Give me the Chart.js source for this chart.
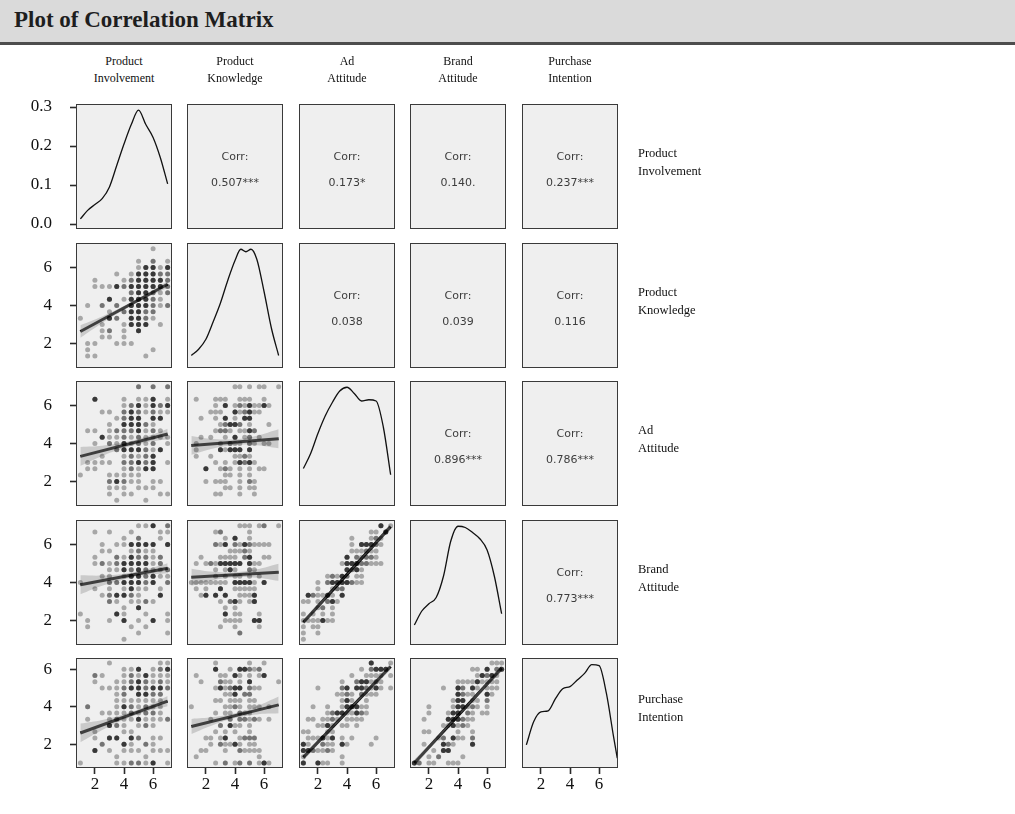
<!DOCTYPE html>
<html>
<head>
<meta charset="utf-8">
<script src="https://cdn.jsdelivr.net/npm/chart.js@4.4.1/dist/chart.umd.min.js"></script>
<style>
  body { margin: 0; background: #fff; width: 1015px; height: 814px; position: relative; overflow: hidden; }
  #header { position: absolute; left: 0; top: 0; width: 1015px; height: 42px; background: #dadada;
            border-bottom: 3px solid #4d4d4d; }
  #header span { position: absolute; left: 14px; top: 7px; font: bold 23px "Liberation Serif", serif; color: #1e1e1e; }
  .lab { position: absolute; font: 12px/17px "Liberation Serif", serif; color: #111; }
  .col { text-align: center; width: 120px; }
  .row { line-height: 18px; font-size: 12.5px; }
  .cell { position: absolute; }
</style>
</head>
<body>
<div id="header"><span>Plot of Correlation Matrix</span></div>
<script>
// variable names (strip labels)
const varNames = [
    ['Product', 'Involvement'],
    ['Product', 'Knowledge'],
    ['Ad', 'Attitude'],
    ['Brand', 'Attitude'],
    ['Purchase', 'Intention']
];

// correlation text, upper triangle, row by row
const corrValues = ['0.507***', '0.173*', '0.140.', '0.237***', '0.038', '0.039', '0.116', '0.896***', '0.786***', '0.773***'];

// response levels of each scale
const halves = [1, 1.5, 2, 2.5, 3, 3.5, 4, 4.5, 5, 5.5, 6, 6.5, 7];
const thirds = [1, 1.333, 1.667, 2, 2.333, 2.667, 3, 3.333, 3.667, 4, 4.333, 4.667, 5, 5.333, 5.667, 6, 6.333, 6.667, 7];
const intentLevels = [1, 1.333, 1.667, 2, 2.333, 2.667, 3, 3.333, 3.667, 4, 4.333, 4.667, 5, 5.333, 5.667, 6, 6.333];
const varLevels = [halves, thirds, thirds, thirds, intentLevels];

const axisTicks = [2, 4, 6];
const densityTicks = [0, 0.1, 0.2, 0.3];

// scatter grids: one string per y level (top = highest),
// one char per x level; '.' none, 1 light, 2 medium, 3 dark (overplotted)
const gridInvKnow = [
    '..........1..', '.............', '........1.2.1', '........13313', '.....1.133322',
    '..1...1233332', '..11132333332', '.......233212', '....3.133321.', '.1.2.2.333212',
    '....1.23322..', '1...32.3321..', '...1..1333.1.', '...12.1.3....', '...11.1......',
    '.11..111.....', '.1........1..', '.11......1...', '.............'
];
const gridInvAd = [
    '........2.2.2', '.............', '..3...1.113.1', '......1231323', '...11.2321211',
    '.....1233.33.', '....1.33321..', '.11.12223121.', '...3112121111', '..1.2131212.1',
    '.....2333213.', '...1..12123..', '.1111.22323.1', '.11...12133..', '1...11111....',
    '....23211.11.', '....111.111..', '....1.11...11', '.....1...1...'
];
const gridInvBrand = [
    '........113.2', '..1.1..1...11', '......1.2..1.', '...1.113333.3', '...11..1211..',
    '..1..2132212.', '..1212333312.', '....113232112', '...11.1332311', '1...2233323.2',
    '..1.1.1311.1.', '...123321..3.', '....21.1121..', '......1.3....', '1....31..1..1',
    '.1..1.3.1.3.1', '.1.....1.1...', '........1...1', '......1......'
];
const gridInvIntent = [
    '....1......11', '......113.123', '..21..1213111', '..1..11232121', '...1112332332',
    '.....12.3322.', '.....1111111.', '.2...1321211.', '...111121221.', '.1..121131112',
    '....321.121..', '..1...11.....', '..1.33.32.11.', '...2..31.21..', '..3.1.111.111',
    '.....1...1...', '1....112213.1'
];
const gridKnowAd = [
    '.........11.1.11..1', '...................', '.1...111..111..1...', '.....1.3.12131131..',
    '....111..312311....', '..1..1.3.1.33......', '......12332.1...1..', '.....1221.1132.....',
    '..1.1..1.3.12.1....', '.1....1.211.21.11..', '.1....31333.3......', '.1..1....1121......',
    '.....1.1.13231.....', '...3..121.1.1.11...', '.......11.1.1......', '...1.111..1.21.....',
    '.......11.1.11.....', '.....11...1..1.....', '...................'
];
const gridKnowBrand = [
    '..........111.12..1', '.....12.....1......', '.......1.3..1......', '.....213.21321111..',
    '........11121......', '..1...1111.23..11..', '.1.12133333.311....', '.....1.131..21.....',
    '.....1.1.11.1.1....', '11111111.33331.3...', '.1.1..3..11111.....', '..13.3.3..1113.....',
    '......1.231.13.....', '.......1.1.........', '.......3.11...1....', '.......1111..33....',
    '......1..1....1....', '..........2........', '...................'
];
const gridKnowIntent = [
    '.....1......1..1...', '.....3..1.33212....', '.1....11.31.1.13...', '..1...211.1.3.....1',
    '.....131233.211....', '.......113.22......', '.....11.111.11.....', '1......1121.111.1..',
    '.....1.11.211......', '....1...2.22121.1..', '......2.311.1......', '.....1.1.1..1......',
    '...11.13..1222.....', '....1.21131.11.....', '..11...1..21111....', '.1............1....',
    '.....1.2.12.2.131..'
];
const gridAdBrand = [
    '................3.1', '..............11.3.', '..........1...121..', '..........1.33321..',
    '..........111211...', '.........3.21221...', '........133322111..', '.........3231......',
    '.....12132.11......', '...1.23333211......', '...1..122..........', '.321131.3..........',
    '11.1.231...........', '...12.1............', '1.1.1.1............', '1111311............',
    '1.11...............', '1..1...............', '1..................'
];
const gridAdIntent = [
    '..............3...1', '............1.2333.', '..........1..1111.1', '........1..233121..',
    '...1....23.332131.1', '.......1121.2111...', '........131..1.....', '..1..1..133311.....',
    '.....123311321.....', '.11.1121.1111......', '...1131.11.1.......', '11...11............',
    '.111313.1.1....1...', '31..211.31....1....', '3321121............', '1.......1..........',
    '3..311..1..........'
];
const gridBrandIntent = [
    '................111', '............11.3.23', '.............13231.', '.........111131111.',
    '......1..32.31.111.', '.........3211..31..', '........133.11.2...', '...1....133121.1...',
    '...1...133.21.11...', '..1....333211......', '......113121.......', '..11.....1..1......',
    '.....12.311.2......', '..1...321...3......', '....1.33...........', '...1.2....1........',
    '32.11..111.........'
];

// fitted lines: y at x = 1 and x = 7; band half widths at x = 1, 2.5, 4, 5.5, 7
const bandX = [1, 2.5, 4, 5.5, 7];
const fitInvKnow = [2.63, 5.12],   bandInvKnow = [0.33, 0.17, 0.1, 0.1, 0.18];
const fitInvAd = [3.32, 4.5],      bandInvAd = [0.5, 0.27, 0.15, 0.15, 0.28];
const fitInvBrand = [3.88, 4.75],  bandInvBrand = [0.5, 0.27, 0.15, 0.14, 0.26];
const fitInvIntent = [2.6, 4.3],   bandInvIntent = [0.5, 0.27, 0.15, 0.14, 0.27];
const fitKnowAd = [3.9, 4.25],     bandKnowAd = [0.5, 0.25, 0.15, 0.25, 0.5];
const fitKnowBrand = [4.28, 4.54], bandKnowBrand = [0.45, 0.22, 0.13, 0.22, 0.45];
const fitKnowIntent = [2.95, 4.1], bandKnowIntent = [0.4, 0.21, 0.13, 0.22, 0.45];
const fitAdBrand = [1.9, 6.95],    bandAdBrand = [0.15, 0.08, 0.06, 0.08, 0.15];
const fitAdIntent = [1.3, 6.15],   bandAdIntent = [0.18, 0.1, 0.07, 0.1, 0.18];
const fitBrandIntent = [1.0, 6.06], bandBrandIntent = [0.18, 0.1, 0.07, 0.1, 0.18];

// diagonal densities (first one in density units, others relative to panel height)
const densX = [1, 1.5, 2, 2.5, 3, 3.5, 4, 4.5, 5, 5.5, 6, 6.5, 7];
const densInv = [0.013, 0.035, 0.05, 0.065, 0.095, 0.15, 0.205, 0.255, 0.292, 0.255, 0.222, 0.17, 0.103];
const densKnowX = [1, 1.5, 2, 2.5, 3, 3.5, 4, 4.4, 4.75, 5.1, 5.5, 6, 6.5, 7];
const densKnow = [0.10, 0.15, 0.23, 0.37, 0.52, 0.70, 0.86, 0.95, 0.93, 0.95, 0.87, 0.61, 0.32, 0.10];
const densAd = [0.30, 0.42, 0.58, 0.72, 0.83, 0.92, 0.95, 0.90, 0.84, 0.85, 0.84, 0.63, 0.25];
const densBrand = [0.16, 0.27, 0.33, 0.38, 0.55, 0.83, 0.95, 0.94, 0.90, 0.85, 0.76, 0.55, 0.25];
const densIntentX = [1, 1.5, 2, 2.5, 3, 3.5, 4, 4.5, 5, 5.5, 6, 6.5, 7, 7.25];
const densIntent = [0.21, 0.42, 0.51, 0.52, 0.63, 0.72, 0.74, 0.80, 0.86, 0.94, 0.93, 0.68, 0.28, 0.09];

// layout
const PANEL_X = [76, 187, 299, 410, 522];
const PANEL_Y = [104, 243, 381, 520, 658];
const PANEL_W = 96;
const PANEL_H = [125, 125, 125, 125, 110];
const AXIS_W = 60, AXIS_H = 26;
const MARGIN = 12;
const VAR_RANGE = [0.7, 7.3];
const ROW_RANGE = [[0.7, 7.3], [0.7, 7.3], [0.7, 7.3], [0.7, 7.3], [0.733, 6.6]];

const scatterPanels = {
    '1,0': [gridInvKnow, fitInvKnow, bandInvKnow],
    '2,0': [gridInvAd, fitInvAd, bandInvAd],
    '3,0': [gridInvBrand, fitInvBrand, bandInvBrand],
    '4,0': [gridInvIntent, fitInvIntent, bandInvIntent],
    '2,1': [gridKnowAd, fitKnowAd, bandKnowAd],
    '3,1': [gridKnowBrand, fitKnowBrand, bandKnowBrand],
    '4,1': [gridKnowIntent, fitKnowIntent, bandKnowIntent],
    '3,2': [gridAdBrand, fitAdBrand, bandAdBrand],
    '4,2': [gridAdIntent, fitAdIntent, bandAdIntent],
    '4,3': [gridBrandIntent, fitBrandIntent, bandBrandIntent]
};
const diagPanels = [
    [densX, densInv], [densKnowX, densKnow], [densX, densAd], [densX, densBrand], [densIntentX, densIntent]
];

const COPIES = { '1': 1, '2': 2, '3': 4 };

// panel background, border and correlation text
const panelPlugin = {
    id: 'panel',
    beforeDraw(chart) {
        const a = chart.chartArea, ctx = chart.ctx;
        ctx.save();
        ctx.fillStyle = '#efefef';
        ctx.fillRect(a.left, a.top, a.right - a.left, a.bottom - a.top);
        ctx.restore();
    },
    afterDraw(chart, args, opts) {
        const a = chart.chartArea, ctx = chart.ctx;
        ctx.save();
        ctx.strokeStyle = '#3a3a3a';
        ctx.lineWidth = 1;
        ctx.strokeRect(a.left + 0.5, a.top + 0.5, a.right - a.left - 1, a.bottom - a.top - 1);
        if (opts.corr) {
            const cx = (a.left + a.right) / 2, cy = (a.top + a.bottom) / 2;
            ctx.fillStyle = '#3d3d3d';
            ctx.font = '11px "DejaVu Sans", sans-serif';
            ctx.textAlign = 'center';
            ctx.textBaseline = 'middle';
            ctx.fillText('Corr:', cx, cy - 9);
            ctx.fillText(opts.corr, cx, cy + 17);
        }
        ctx.restore();
    }
};

function gridPoints(grid, xLevels, yLevels) {
    const pts = [];
    grid.forEach((row, r) => {
        const y = yLevels[yLevels.length - 1 - r];
        [...row].forEach((ch, c) => {
            const n = COPIES[ch] || 0;
            for (let k = 0; k < n; k++) pts.push({ x: xLevels[c], y: y });
        });
    });
    return pts;
}

function axisOpts(range, show, ticks, isY, fmt) {
    return {
        type: 'linear',
        min: range[0],
        max: range[1],
        display: show,
        position: isY ? 'left' : 'bottom',
        afterFit: s => {
            // fixed axis band, no extra room for label overflow
            if (isY) s.width = show ? AXIS_W : 0; else s.height = show ? AXIS_H : 0;
            s.paddingTop = 0; s.paddingBottom = 0; s.paddingLeft = 0; s.paddingRight = 0;
        },
        afterBuildTicks: s => { s.ticks = ticks.map(v => ({ value: v })); },
        grid: { drawOnChartArea: false, drawTicks: true, tickLength: 6, tickColor: '#2a2a2a', tickWidth: 1.6 },
        border: { display: false },
        ticks: {
            color: '#111',
            font: { family: 'Liberation Serif', size: 17 },
            padding: isY ? 18 : 0,
            maxRotation: 0,
            autoSkip: false,
            callback: fmt
        }
    };
}

function buildPanel(i, j, corr) {
    const showY = j === 0, showX = i === 4;
    const w = PANEL_W + (showY ? AXIS_W : 0) + 2 * MARGIN;
    const h = PANEL_H[i] + (showX ? AXIS_H : 0) + 2 * MARGIN;
    const cell = document.createElement('div');
    cell.className = 'cell';
    cell.style.left = (PANEL_X[j] - (showY ? AXIS_W : 0) - MARGIN) + 'px';
    cell.style.top = (PANEL_Y[i] - MARGIN) + 'px';
    cell.style.width = w + 'px';
    cell.style.height = h + 'px';
    const canvas = document.createElement('canvas');
    cell.appendChild(canvas);
    document.body.appendChild(cell);

    let datasets = [];
    let yRange = ROW_RANGE[i], yTicks = axisTicks, yFmt = v => String(v);

    if (i === j) {
        const [xs, ys] = diagPanels[i];
        datasets.push({
            type: 'line',
            data: xs.map((x, k) => ({ x: x, y: ys[k] })),
            borderColor: '#111',
            borderWidth: 1.3,
            pointRadius: 0,
            cubicInterpolationMode: 'monotone',
            fill: false
        });
        if (i === 0) {
            yRange = [-0.0128, 0.3077];
            yTicks = densityTicks;
            yFmt = v => v.toFixed(1);
        } else {
            yRange = [0, 1];
        }
    } else if (i > j) {
        const [grid, fit, band] = scatterPanels[i + ',' + j];
        const fitAt = x => fit[0] + (fit[1] - fit[0]) * (x - 1) / 6;
        datasets.push({
            type: 'scatter',
            data: gridPoints(grid, varLevels[j], varLevels[i]),
            backgroundColor: 'rgba(0,0,0,0.3)',
            borderWidth: 0,
            pointRadius: 2.5
        });
        datasets.push({
            type: 'line',
            data: bandX.map((x, k) => ({ x: x, y: fitAt(x) - band[k] })),
            borderWidth: 0,
            pointRadius: 0,
            tension: 0.4,
            fill: false
        });
        datasets.push({
            type: 'line',
            data: bandX.map((x, k) => ({ x: x, y: fitAt(x) + band[k] })),
            borderWidth: 0,
            pointRadius: 0,
            tension: 0.4,
            backgroundColor: 'rgba(150,150,150,0.42)',
            fill: '-1'
        });
        datasets.push({
            type: 'line',
            data: [{ x: 1, y: fit[0] }, { x: 7, y: fit[1] }],
            borderColor: '#000',
            borderWidth: 3,
            pointRadius: 0,
            fill: false
        });
    }

    new Chart(canvas, {
        type: 'scatter',
        data: { datasets: datasets },
        options: {
            responsive: true,
            maintainAspectRatio: false,
            animation: false,
            devicePixelRatio: 1,
            layout: { padding: MARGIN },
            plugins: {
                legend: { display: false },
                tooltip: { enabled: false },
                panel: { corr: corr }
            },
            scales: {
                x: axisOpts(VAR_RANGE, showX, axisTicks, false, v => String(v)),
                y: axisOpts(yRange, showY, yTicks, true, yFmt)
            }
        },
        plugins: [panelPlugin]
    });
}

function addLabel(lines, left, top, cls) {
    const div = document.createElement('div');
    div.className = 'lab ' + cls;
    div.style.left = left + 'px';
    div.style.top = top + 'px';
    div.innerHTML = lines.join('<br>');
    document.body.appendChild(div);
}

function init() {
    let c = 0;
    for (let i = 0; i < 5; i++) {
        for (let j = 0; j < 5; j++) {
            buildPanel(i, j, j > i ? corrValues[c++] : null);
        }
    }
    varNames.forEach((name, k) => {
        addLabel(name, PANEL_X[k] + PANEL_W / 2 - 60, 53, 'col');
        addLabel(name, 638, PANEL_Y[k] + PANEL_H[k] / 2 - 23, 'row');
    });
}

init();
</script>
</body>
</html>
